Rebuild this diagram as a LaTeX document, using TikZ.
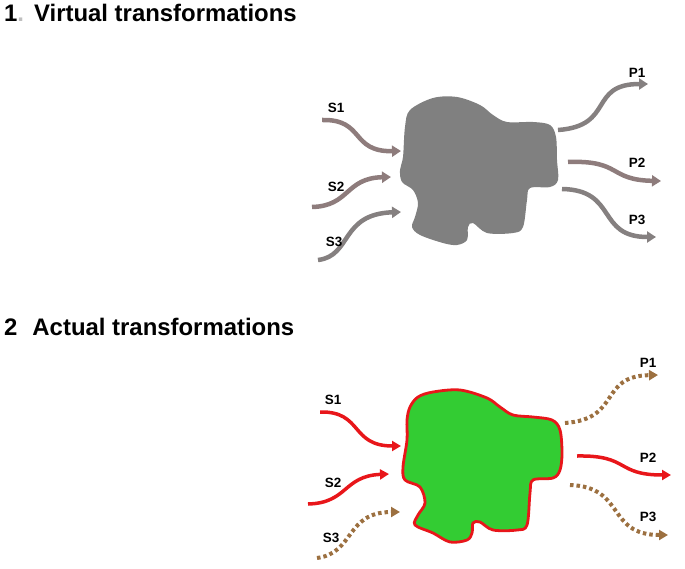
\documentclass[tikz,border=0pt]{standalone}
\usepackage{fontspec}
\setmainfont{Liberation Sans}
\usetikzlibrary{arrows.meta}
\definecolor{blobgray}{HTML}{808080}
\definecolor{arrgray}{HTML}{858080}
\definecolor{arrpink}{HTML}{8E7C7C}
\definecolor{blobgreen}{HTML}{33CC33}
\definecolor{edgered}{HTML}{E8161A}
\definecolor{dotbrown}{HTML}{9C7040}
\tikzset{
  title/.style={anchor=base west, font=\bfseries\fontsize{24}{28}\selectfont, inner sep=0pt},
  lbl/.style={font=\bfseries\fontsize{13.5}{16}\selectfont, inner sep=0pt, text=black},
  grayarrow/.style={draw=#1, line width=4.5bp, -{Triangle[length=9bp,width=11bp]}},
  redarrow/.style={draw=edgered, line width=3.5bp, -{Triangle[length=9bp,width=10bp]}},
  dotarrow/.style={draw=dotbrown, line width=4bp, dash pattern=on 3.5bp off 3bp, -{Triangle[length=9bp,width=10bp,sep=1bp]}},
}
\begin{document}
\begin{tikzpicture}[x=1bp,y=-1bp]
\useasboundingbox (0,0) rectangle (685,569);
% titles
\node[title] (t1) at (4,22) {1\textcolor{black!25}{.}\hspace{10bp}Virtual transformations};
\node[title] (t2) at (4,335) {2\hspace{15bp}Actual transformations};

% ---------- panel 1 ----------
\fill[blobgray] plot[smooth cycle, tension=0.55] coordinates {
 (410,110) (433,98) (457,97) (480,105) (493,115) (507,122) (533,122) (550,125)
 (556,137) (557,160) (558,180) (550,187) (530,188) (527,200) (523,227) (513,233)
 (487,233) (473,223) (468,227) (467,240) (457,245) (443,243) (420,235) (412,227)
 (415,217) (418,203) (413,190) (402,182) (400,170) (403,157) (405,127)};

\coordinate (a1s) at (322,120); \coordinate (a1e) at (401,151);
\coordinate (a2s) at (312,207); \coordinate (a2e) at (391,177);
\coordinate (a3s) at (318,260); \coordinate (a3e) at (401,212);
\coordinate (b1s) at (558,130); \coordinate (b1e) at (648,84);
\coordinate (b2s) at (568,162); \coordinate (b2e) at (661,181);
\coordinate (b3s) at (562,189); \coordinate (b3e) at (656,237);

\draw[grayarrow=arrpink] (a1s) .. controls (365,119) and (350,152) .. (a1e);
\draw[grayarrow=arrpink] (a2s) .. controls (350,206) and (345,178) .. (a2e);
\draw[grayarrow=arrgray] (a3s) .. controls (352,256) and (340,214) .. (a3e);
\draw[grayarrow=arrgray] (b1s) .. controls (615,126) and (588,84) .. (b1e);
\draw[grayarrow=arrpink] (b2s) .. controls (622,160) and (608,180) .. (b2e);
\draw[grayarrow=arrgray] (b3s) .. controls (618,190) and (596,237) .. (b3e);

\node[lbl] (s1a) at (336,108) {S1};
\node[lbl] (s2a) at (336,187) {S2};
\node[lbl] (s3a) at (334,242) {S3};
\node[lbl] (p1a) at (637,73) {P1};
\node[lbl] (p2a) at (637,163) {P2};
\node[lbl] (p3a) at (637,220) {P3};

% ---------- panel 2 ----------
\filldraw[fill=blobgreen, draw=edgered, line width=2.8bp] plot[smooth cycle, tension=0.55] coordinates {
 (410,407) (418,397) (433,392) (460,390) (487,398) (500,407) (513,415) (533,417)
 (552,420) (560,430) (562,453) (560,470) (553,478) (533,480) (530,493) (527,525)
 (517,530) (493,530) (480,522) (473,523) (472,533) (467,540) (450,542) (433,533)
 (415,525) (418,515) (425,503) (420,487) (405,480) (403,467) (407,440) (407,420)};

\coordinate (c1s) at (320,412); \coordinate (c1e) at (401,446);
\coordinate (c2s) at (308,504); \coordinate (c2e) at (389,474);
\coordinate (c3s) at (317,558); \coordinate (c3e) at (401,512);
\coordinate (d1s) at (565,423); \coordinate (d1e) at (659,375);
\coordinate (d2s) at (577,456); \coordinate (d2e) at (671,475);
\coordinate (d3s) at (570,485); \coordinate (d3e) at (669,535);

\draw[redarrow] (c1s) .. controls (363,411) and (350,446) .. (c1e);
\draw[redarrow] (c2s) .. controls (348,503) and (343,476) .. (c2e);
\draw[dotarrow] (c3s) .. controls (355,553) and (345,512) .. (c3e);
\draw[dotarrow] (d1s) .. controls (622,419) and (598,376) .. (d1e);
\draw[redarrow] (d2s) .. controls (630,455) and (615,475) .. (d2e);
\draw[dotarrow] (d3s) .. controls (626,487) and (606,535) .. (d3e);

\node[lbl] (s1b) at (333,400) {S1};
\node[lbl] (s2b) at (333,483) {S2};
\node[lbl] (s3b) at (331,538) {S3};
\node[lbl] (p1b) at (648,363) {P1};
\node[lbl] (p2b) at (648,458) {P2};
\node[lbl] (p3b) at (648,517) {P3};
\end{tikzpicture}
\end{document}
